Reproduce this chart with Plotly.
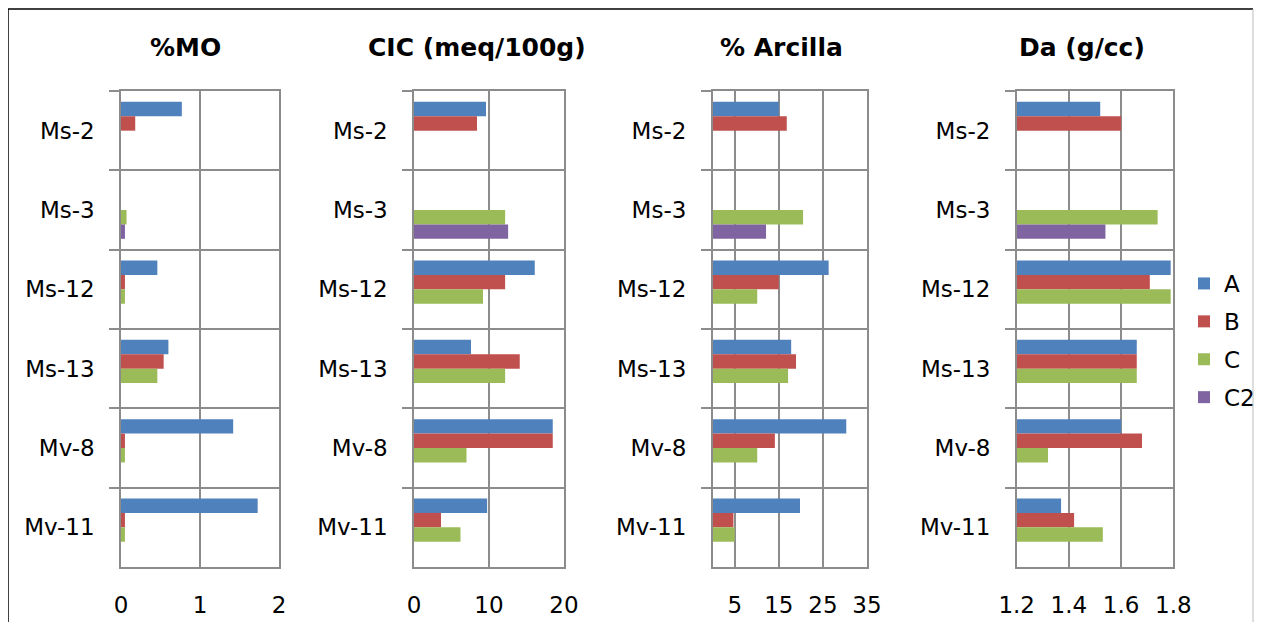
import plotly.graph_objects as go

# the page adds an 8px body margin, so the figure is drawn 8px in from the window edge
OFF = 8
W, H = 1262 - 2 * OFF, 630 - 2 * OFF

samples = ["Ms-2", "Ms-3", "Ms-12", "Ms-13", "Mv-8", "Mv-11"]
series = ["A", "B", "C", "C2"]
colors = {"A": "#4F81BD", "B": "#C0504D", "C": "#9BBB59", "C2": "#8064A2"}

# %MO
mo_a = [0.77, None, 0.46, 0.60, 1.42, 1.73]
mo_b = [0.18, None, 0.05, 0.54, 0.05, 0.05]
mo_c = [None, 0.07, 0.05, 0.46, 0.05, 0.05]
mo_c2 = [None, 0.05, None, None, None, None]

# CIC (meq/100g)
cic_a = [9.6, None, 16.1, 7.6, 18.5, 9.75]
cic_b = [8.4, None, 12.15, 14.1, 18.5, 3.6]
cic_c = [None, 12.15, 9.2, 12.15, 7.0, 6.2]
cic_c2 = [None, 12.55, None, None, None, None]

# % Arcilla
arc_a = [15.0, None, 26.3, 17.8, 30.3, 19.8]
arc_b = [16.8, None, 15.0, 18.9, 14.1, 4.7]
arc_c = [None, 20.5, 10.1, 17.1, 10.1, 5.0]
arc_c2 = [None, 12.1, None, None, None, None]

# Da (g/cc)
da_a = [1.52, None, 1.79, 1.66, 1.60, 1.37]
da_b = [1.60, None, 1.71, 1.66, 1.68, 1.42]
da_c = [None, 1.74, 1.79, 1.66, 1.32, 1.53]
da_c2 = [None, 1.54, None, None, None, None]

titles = ["%MO", "CIC (meq/100g)", "% Arcilla", "Da (g/cc)"]
panel_data = [
    [mo_a, mo_b, mo_c, mo_c2],
    [cic_a, cic_b, cic_c, cic_c2],
    [arc_a, arc_b, arc_c, arc_c2],
    [da_a, da_b, da_c, da_c2],
]
x_ranges = [[0, 2], [0, 20], [0, 35], [1.2, 1.8]]
x_ticks = [[0, 1, 2], [0, 10, 20], [5, 15, 25, 35], [1.2, 1.4, 1.6, 1.8]]
x_ticktext = [["0", "1", "2"], ["0", "10", "20"], ["5", "15", "25", "35"],
              ["1.2", "1.4", "1.6", "1.8"]]

# pixel layout (window coordinates) of each plot area
px_left = [121, 414, 712.7, 1016.7]
px_right = [279, 564, 867, 1173.3]
title_cx = [185, 477, 781, 1082]
plot_top, plot_bottom = 91, 567


def px(x):
    return (x - OFF) / W


def py(y):
    return 1 - (y - OFF) / H


GRID = "#8C8C8C"
FONT = "DejaVu Sans"

fig = go.Figure()
layout = dict(
    width=W, height=H,
    margin=dict(l=0, r=0, t=0, b=0, autoexpand=False),
    paper_bgcolor="white", plot_bgcolor="white",
    barmode="group", bargap=0.273, bargroupgap=0,
    font=dict(family=FONT, size=23, color="black"),
    showlegend=True,
    legend=dict(x=px(1184), y=py(262), xanchor="left", yanchor="top",
                font=dict(family=FONT, size=23), tracegroupgap=5,
                itemwidth=30, bgcolor="rgba(0,0,0,0)"),
)

annotations = []
for i in range(4):
    sfx = "" if i == 0 else str(i + 1)
    xa, ya = "x" + sfx, "y" + sfx
    for s, vals in zip(series, panel_data[i]):
        fig.add_trace(go.Bar(
            y=samples, x=vals, orientation="h", name=s,
            marker=dict(color=colors[s], line=dict(width=0)),
            legendgroup=s, showlegend=(i == 0),
            xaxis=xa, yaxis=ya,
        ))
    layout["xaxis" + sfx] = dict(
        domain=[px(px_left[i]), px(px_right[i])], anchor=ya,
        range=x_ranges[i], tickvals=x_ticks[i], ticktext=x_ticktext[i],
        showgrid=True, gridcolor=GRID, gridwidth=1.5, zeroline=False,
        showline=True, linecolor=GRID, linewidth=1.5, mirror=True,
        ticks="", ticklabelstandoff=17, automargin=False,
        tickfont=dict(family=FONT, size=23),
    )
    layout["yaxis" + sfx] = dict(
        domain=[py(plot_bottom), py(plot_top)], anchor=xa,
        type="category", categoryorder="array", categoryarray=samples,
        autorange="reversed", tickson="boundaries",
        showgrid=True, gridcolor=GRID, gridwidth=1.5,
        showline=True, linecolor=GRID, linewidth=1.5, mirror=True,
        ticks="outside", ticklen=10, tickcolor=GRID, tickwidth=1.5,
        ticklabelstandoff=20, automargin=False,
        tickfont=dict(family=FONT, size=23),
    )
    annotations.append(dict(
        text="<b>" + titles[i] + "</b>", x=px(title_cx[i]), y=py(47),
        xref="paper", yref="paper", showarrow=False,
        xanchor="center", yanchor="middle",
        font=dict(family=FONT, size=25, color="black"),
    ))

layout["annotations"] = annotations
layout["shapes"] = [
    dict(type="line", xref="paper", yref="paper", x0=px(8), x1=px(1253),
         y0=py(9), y1=py(9), line=dict(color="black", width=1.5)),
    dict(type="line", xref="paper", yref="paper", x0=px(8), x1=px(8),
         y0=py(630), y1=py(9), line=dict(color="black", width=1.5)),
    dict(type="line", xref="paper", yref="paper", x0=px(1253), x1=px(1253),
         y0=py(630), y1=py(9), line=dict(color="#BBBBBB", width=1)),
]

fig.update_layout(**layout)
fig.write_html("out.html")
